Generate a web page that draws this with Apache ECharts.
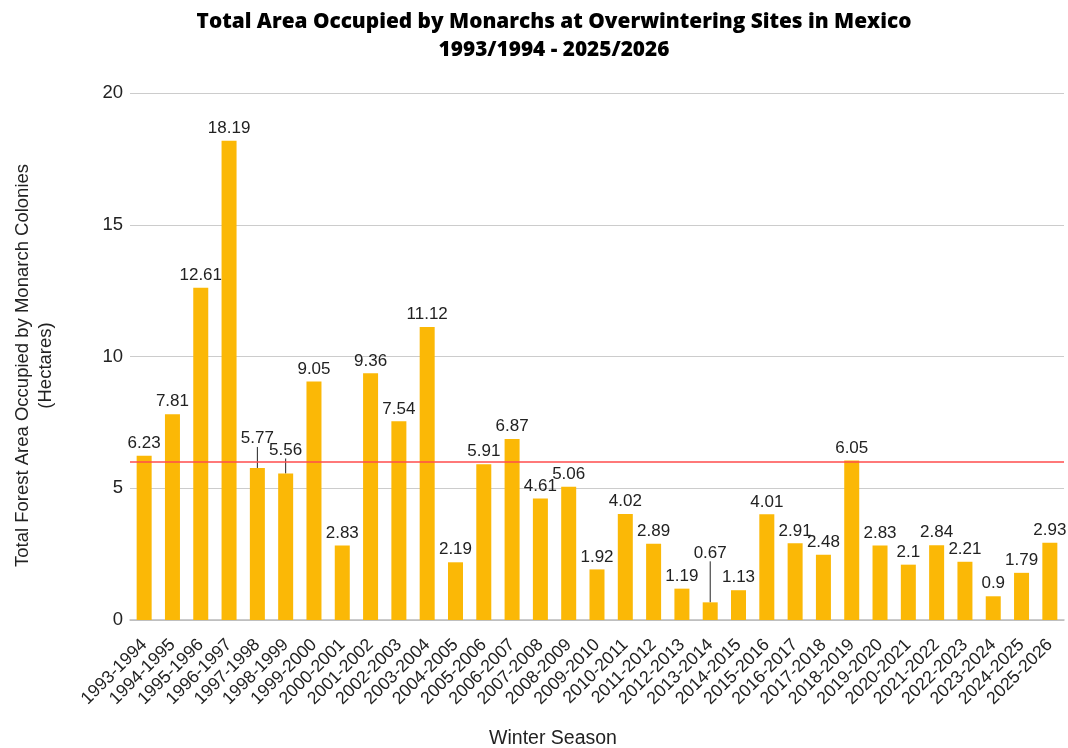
<!DOCTYPE html>
<html><head><meta charset="utf-8">
<script src="https://cdn.jsdelivr.net/npm/echarts@6/dist/echarts.min.js"></script>
<style>html,body{margin:0;padding:0;background:#fff}#c{width:1068px;height:748px}</style>
</head><body><div id="c"></div>
<script>
const seasons = ["1993-1994","1994-1995","1995-1996","1996-1997","1997-1998","1998-1999","1999-2000","2000-2001","2001-2002","2002-2003","2003-2004","2004-2005","2005-2006","2006-2007","2007-2008","2008-2009","2009-2010","2010-2011","2011-2012","2012-2013","2013-2014","2014-2015","2015-2016","2016-2017","2017-2018","2018-2019","2019-2020","2020-2021","2021-2022","2022-2023","2023-2024","2024-2025","2025-2026"];
const hectares = [6.23,7.81,12.61,18.19,5.77,5.56,9.05,2.83,9.36,7.54,11.12,2.19,5.91,6.87,4.61,5.06,1.92,4.02,2.89,1.19,0.67,1.13,4.01,2.91,2.48,6.05,2.83,2.1,2.84,2.21,0.9,1.79,2.93];
const referenceLine = 6;
const yTicks = {min:0, max:20, interval:5};
// labels moved up (with leader line) to avoid overlap
const labelShift = {"1997-1998":17, "1998-1999":11, "2013-2014":37};

const FONT = 'Liberation Sans';
const chart = echarts.init(document.getElementById('c'));
const data = hectares.map((v,i)=>{
  const s = labelShift[seasons[i]];
  const item = {value:v};
  if (s) item.labelLine = {show:true};
  return item;
});
chart.setOption({
  animation:false,
  title:{
    text:'Total Area Occupied by Monarchs at Overwintering Sites in Mexico\n1993/1994 - 2025/2026',
    left:549, textAlign:'center', top:3,
    textStyle:{fontFamily:'Open Sans', fontWeight:800, fontSize:20.8, color:'#000', lineHeight:28}
  },
  grid:{left:130, right:4, top:93, bottom:128, outerBoundsMode:'none'},
  xAxis:{
    type:'category', data:seasons,
    name:'Winter Season', nameLocation:'middle', nameGap:109,
    nameTextStyle:{fontFamily:FONT, fontSize:19.5, color:'#222', padding:[0,88,0,0]},
    axisLine:{lineStyle:{color:'#bbb', width:1.5}},
    axisTick:{show:false},
    axisLabel:{rotate:45, interval:0, fontFamily:FONT, fontSize:17.7, color:'#222', margin:22},
    boundaryGap:true
  },
  yAxis:{
    type:'value', min:yTicks.min, max:yTicks.max, interval:yTicks.interval,
    name:'Total Forest Area Occupied by Monarch Colonies\n(Hectares)',
    nameLocation:'middle', nameGap:73,
    nameTextStyle:{fontFamily:FONT, fontSize:18.5, color:'#222', lineHeight:23, padding:[0,18,0,0]},
    axisLine:{show:false}, axisTick:{show:false},
    axisLabel:{fontFamily:FONT, fontSize:18.5, color:'#222', margin:7},
    splitLine:{lineStyle:{color:'#ccc'}}
  },
  series:[{
    type:'bar', data:data, barWidth:'53%',
    itemStyle:{color:'#fbb806'},
    label:{show:true, position:'top', distance:4, fontFamily:FONT, fontSize:17, color:'#222'},
    labelLine:{show:false, lineStyle:{color:'#222', width:1}},
    labelLayout:function(p){
      const s = labelShift[seasons[p.dataIndex]];
      return s ? {dy:-s} : {};
    },
    markLine:{
      silent:true, symbol:'none', label:{show:false},
      lineStyle:{color:'#ff4d4d', type:'solid', width:1.5},
      data:[{yAxis:referenceLine}]
    }
  }]
});
</script></body></html>
